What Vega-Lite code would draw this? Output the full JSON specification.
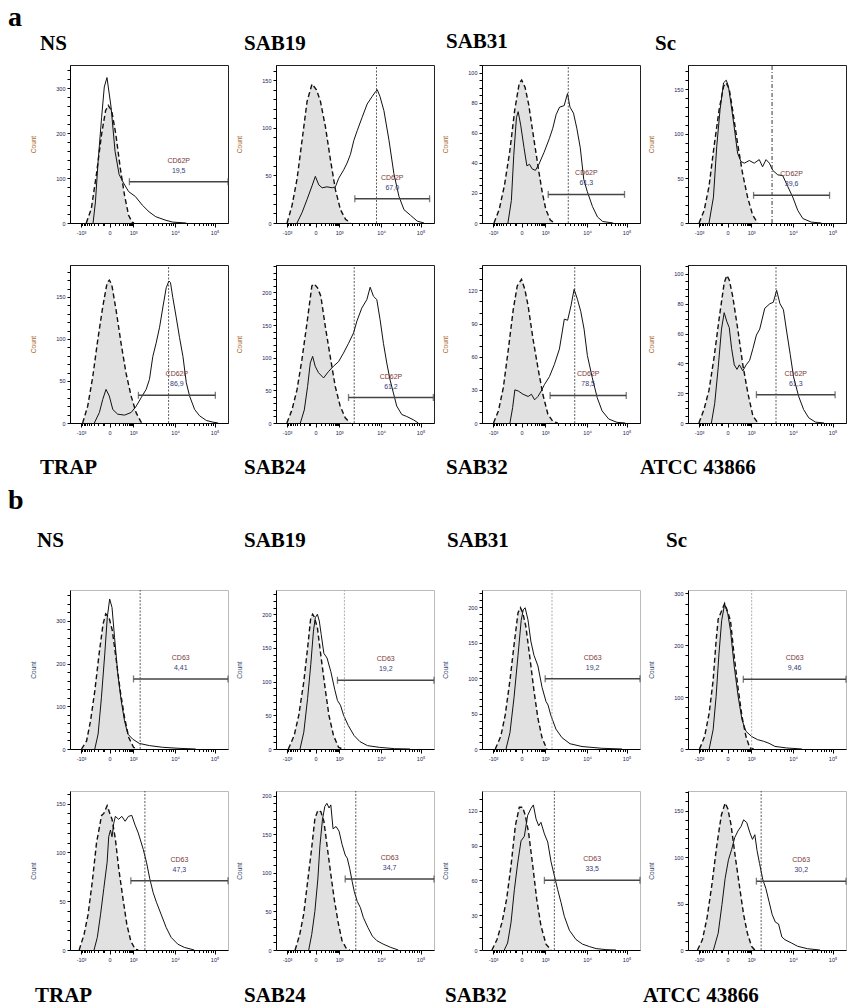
{"$schema":"https://vega.github.io/schema/vega-lite/v6.json","padding":{"left":8,"top":3,"right":0,"bottom":0},
"config":{"view":{"stroke":"#222","strokeWidth":1},"title":{"font":"Liberation Serif","fontSize":21,"fontWeight":"bold","color":"#000","anchor":"start","frame":"group"},
"axis":{"labelFont":"Liberation Sans","labelFontSize":5.5,"labelColor":"#1a2050","tickColor":"#000","domainColor":"#000","tickSize":3,"grid":false,"titleFont":"Liberation Sans","titleFontSize":6.5,"titleFontWeight":"normal","titleColor":"#a8641e","labelPadding":2,"labelOverlap":false},
"axisY":{"titlePadding":19},"axisX":{"labelPadding":3,"labelFlush":false,"tickSize":{"condition":{"test":"indexof([70,250,400,665,915],datum.value)>=0","value":4},"value":2.5}},"text":{"font":"Liberation Sans","fontSize":7}},
"data":{"values":[
{"p":"aNS","s":"c","x":103,"n":0},{"p":"aNS","s":"c","x":135,"n":32},{"p":"aNS","s":"c","x":167,"n":108},{"p":"aNS","s":"c","x":200,"n":198},{"p":"aNS","s":"c","x":225,"n":250},{"p":"aNS","s":"c","x":242,"n":262},{"p":"aNS","s":"c","x":264,"n":250},{"p":"aNS","s":"c","x":290,"n":198},{"p":"aNS","s":"c","x":318,"n":123},{"p":"aNS","s":"c","x":345,"n":62},{"p":"aNS","s":"c","x":371,"n":17},{"p":"aNS","s":"c","x":393,"n":2},{"p":"aNS","s":"c","x":405,"n":0},
{"p":"aNS","s":"s","x":146,"n":0},{"p":"aNS","s":"s","x":161,"n":47},{"p":"aNS","s":"s","x":178,"n":138},{"p":"aNS","s":"s","x":200,"n":235},{"p":"aNS","s":"s","x":217,"n":303},{"p":"aNS","s":"s","x":234,"n":324},{"p":"aNS","s":"s","x":260,"n":258},{"p":"aNS","s":"s","x":285,"n":160},{"p":"aNS","s":"s","x":311,"n":108},{"p":"aNS","s":"s","x":339,"n":89},{"p":"aNS","s":"s","x":371,"n":70},{"p":"aNS","s":"s","x":414,"n":59},{"p":"aNS","s":"s","x":457,"n":40},{"p":"aNS","s":"s","x":500,"n":25},{"p":"aNS","s":"s","x":543,"n":14},{"p":"aNS","s":"s","x":607,"n":6},{"p":"aNS","s":"s","x":650,"n":2},{"p":"aNS","s":"s","x":736,"n":0},
{"p":"aNS","s":"g","x":376,"x2":1000,"n":92,"v":null,"lab":"CD62P","val":"19,5"},
{"p":"aSAB19","s":"c","x":70,"n":0},{"p":"aSAB19","s":"c","x":101,"n":18},{"p":"aSAB19","s":"c","x":133,"n":46},{"p":"aSAB19","s":"c","x":165,"n":87},{"p":"aSAB19","s":"c","x":197,"n":128},{"p":"aSAB19","s":"c","x":228,"n":146},{"p":"aSAB19","s":"c","x":256,"n":140},{"p":"aSAB19","s":"c","x":281,"n":128},{"p":"aSAB19","s":"c","x":313,"n":101},{"p":"aSAB19","s":"c","x":345,"n":66},{"p":"aSAB19","s":"c","x":376,"n":35},{"p":"aSAB19","s":"c","x":408,"n":14},{"p":"aSAB19","s":"c","x":440,"n":4},{"p":"aSAB19","s":"c","x":471,"n":0},
{"p":"aSAB19","s":"s","x":133,"n":0},{"p":"aSAB19","s":"s","x":165,"n":11},{"p":"aSAB19","s":"s","x":197,"n":25},{"p":"aSAB19","s":"s","x":228,"n":39},{"p":"aSAB19","s":"s","x":249,"n":49},{"p":"aSAB19","s":"s","x":271,"n":40},{"p":"aSAB19","s":"s","x":292,"n":37},{"p":"aSAB19","s":"s","x":323,"n":38},{"p":"aSAB19","s":"s","x":355,"n":37},{"p":"aSAB19","s":"s","x":376,"n":38},{"p":"aSAB19","s":"s","x":397,"n":47},{"p":"aSAB19","s":"s","x":429,"n":56},{"p":"aSAB19","s":"s","x":450,"n":63},{"p":"aSAB19","s":"s","x":471,"n":72},{"p":"aSAB19","s":"s","x":493,"n":87},{"p":"aSAB19","s":"s","x":514,"n":97},{"p":"aSAB19","s":"s","x":545,"n":111},{"p":"aSAB19","s":"s","x":577,"n":125},{"p":"aSAB19","s":"s","x":609,"n":133},{"p":"aSAB19","s":"s","x":630,"n":138},{"p":"aSAB19","s":"s","x":641,"n":140},{"p":"aSAB19","s":"s","x":658,"n":133},{"p":"aSAB19","s":"s","x":683,"n":118},{"p":"aSAB19","s":"s","x":715,"n":87},{"p":"aSAB19","s":"s","x":746,"n":52},{"p":"aSAB19","s":"s","x":778,"n":28},{"p":"aSAB19","s":"s","x":810,"n":14},{"p":"aSAB19","s":"s","x":852,"n":8},{"p":"aSAB19","s":"s","x":894,"n":2},{"p":"aSAB19","s":"s","x":937,"n":0},
{"p":"aSAB19","s":"g","x":499,"x2":972,"n":25.5,"v":636,"lab":"CD62P","val":"67,0"},
{"p":"aSAB31","s":"c","x":76,"n":0},{"p":"aSAB31","s":"c","x":109,"n":9},{"p":"aSAB31","s":"c","x":142,"n":25},{"p":"aSAB31","s":"c","x":175,"n":47},{"p":"aSAB31","s":"c","x":207,"n":75},{"p":"aSAB31","s":"c","x":236,"n":93},{"p":"aSAB31","s":"c","x":251,"n":95},{"p":"aSAB31","s":"c","x":273,"n":90},{"p":"aSAB31","s":"c","x":295,"n":79},{"p":"aSAB31","s":"c","x":328,"n":56},{"p":"aSAB31","s":"c","x":360,"n":34},{"p":"aSAB31","s":"c","x":382,"n":20},{"p":"aSAB31","s":"c","x":404,"n":9},{"p":"aSAB31","s":"c","x":432,"n":2},{"p":"aSAB31","s":"c","x":459,"n":0},
{"p":"aSAB31","s":"s","x":164,"n":0},{"p":"aSAB31","s":"s","x":186,"n":15},{"p":"aSAB31","s":"s","x":201,"n":45},{"p":"aSAB31","s":"s","x":218,"n":70},{"p":"aSAB31","s":"s","x":229,"n":74},{"p":"aSAB31","s":"s","x":245,"n":65},{"p":"aSAB31","s":"s","x":266,"n":50},{"p":"aSAB31","s":"s","x":284,"n":38},{"p":"aSAB31","s":"s","x":301,"n":39},{"p":"aSAB31","s":"s","x":317,"n":36},{"p":"aSAB31","s":"s","x":338,"n":35},{"p":"aSAB31","s":"s","x":360,"n":39},{"p":"aSAB31","s":"s","x":393,"n":47},{"p":"aSAB31","s":"s","x":426,"n":56},{"p":"aSAB31","s":"s","x":448,"n":63},{"p":"aSAB31","s":"s","x":469,"n":72},{"p":"aSAB31","s":"s","x":491,"n":77},{"p":"aSAB31","s":"s","x":520,"n":78},{"p":"aSAB31","s":"s","x":541,"n":86},{"p":"aSAB31","s":"s","x":557,"n":77},{"p":"aSAB31","s":"s","x":579,"n":73},{"p":"aSAB31","s":"s","x":600,"n":63},{"p":"aSAB31","s":"s","x":622,"n":50},{"p":"aSAB31","s":"s","x":644,"n":29},{"p":"aSAB31","s":"s","x":666,"n":21},{"p":"aSAB31","s":"s","x":699,"n":11},{"p":"aSAB31","s":"s","x":731,"n":4},{"p":"aSAB31","s":"s","x":764,"n":1},{"p":"aSAB31","s":"s","x":830,"n":0},
{"p":"aSAB31","s":"g","x":419,"x2":902,"n":19,"v":546,"lab":"CD62P","val":"61,3"},
{"p":"aSc","s":"c","x":70,"n":0},{"p":"aSc","s":"c","x":102,"n":14},{"p":"aSc","s":"c","x":133,"n":41},{"p":"aSc","s":"c","x":165,"n":86},{"p":"aSc","s":"c","x":197,"n":127},{"p":"aSc","s":"c","x":225,"n":153},{"p":"aSc","s":"c","x":242,"n":157},{"p":"aSc","s":"c","x":261,"n":150},{"p":"aSc","s":"c","x":282,"n":127},{"p":"aSc","s":"c","x":314,"n":89},{"p":"aSc","s":"c","x":345,"n":56},{"p":"aSc","s":"c","x":377,"n":29},{"p":"aSc","s":"c","x":409,"n":9},{"p":"aSc","s":"c","x":441,"n":0},
{"p":"aSc","s":"s","x":133,"n":0},{"p":"aSc","s":"s","x":161,"n":29},{"p":"aSc","s":"s","x":182,"n":86},{"p":"aSc","s":"s","x":203,"n":127},{"p":"aSc","s":"s","x":225,"n":157},{"p":"aSc","s":"s","x":242,"n":160},{"p":"aSc","s":"s","x":256,"n":153},{"p":"aSc","s":"s","x":271,"n":135},{"p":"aSc","s":"s","x":292,"n":108},{"p":"aSc","s":"s","x":314,"n":78},{"p":"aSc","s":"s","x":335,"n":69},{"p":"aSc","s":"s","x":356,"n":67},{"p":"aSc","s":"s","x":388,"n":70},{"p":"aSc","s":"s","x":419,"n":67},{"p":"aSc","s":"s","x":451,"n":71},{"p":"aSc","s":"s","x":472,"n":63},{"p":"aSc","s":"s","x":494,"n":71},{"p":"aSc","s":"s","x":515,"n":67},{"p":"aSc","s":"s","x":536,"n":59},{"p":"aSc","s":"s","x":568,"n":54},{"p":"aSc","s":"s","x":600,"n":53},{"p":"aSc","s":"s","x":631,"n":41},{"p":"aSc","s":"s","x":663,"n":29},{"p":"aSc","s":"s","x":695,"n":14},{"p":"aSc","s":"s","x":727,"n":5},{"p":"aSc","s":"s","x":780,"n":1},{"p":"aSc","s":"s","x":843,"n":0},
{"p":"aSc","s":"g","x":415,"x2":896,"n":31,"v":532,"lab":"CD62P","val":"39,6"},
{"p":"aTRAP","s":"c","x":80,"n":0},{"p":"aTRAP","s":"c","x":112,"n":20},{"p":"aTRAP","s":"c","x":144,"n":55},{"p":"aTRAP","s":"c","x":175,"n":98},{"p":"aTRAP","s":"c","x":207,"n":138},{"p":"aTRAP","s":"c","x":235,"n":167},{"p":"aTRAP","s":"c","x":249,"n":170},{"p":"aTRAP","s":"c","x":264,"n":165},{"p":"aTRAP","s":"c","x":292,"n":134},{"p":"aTRAP","s":"c","x":323,"n":95},{"p":"aTRAP","s":"c","x":355,"n":59},{"p":"aTRAP","s":"c","x":387,"n":32},{"p":"aTRAP","s":"c","x":419,"n":12},{"p":"aTRAP","s":"c","x":450,"n":1},{"p":"aTRAP","s":"c","x":465,"n":0},
{"p":"aTRAP","s":"s","x":154,"n":0},{"p":"aTRAP","s":"s","x":186,"n":12.5},{"p":"aTRAP","s":"s","x":207,"n":28},{"p":"aTRAP","s":"s","x":228,"n":40},{"p":"aTRAP","s":"s","x":249,"n":32},{"p":"aTRAP","s":"s","x":271,"n":16},{"p":"aTRAP","s":"s","x":302,"n":10.5},{"p":"aTRAP","s":"s","x":345,"n":9.4},{"p":"aTRAP","s":"s","x":387,"n":12.5},{"p":"aTRAP","s":"s","x":419,"n":20},{"p":"aTRAP","s":"s","x":450,"n":30},{"p":"aTRAP","s":"s","x":482,"n":40},{"p":"aTRAP","s":"s","x":503,"n":52},{"p":"aTRAP","s":"s","x":524,"n":79},{"p":"aTRAP","s":"s","x":545,"n":95},{"p":"aTRAP","s":"s","x":567,"n":114},{"p":"aTRAP","s":"s","x":588,"n":138},{"p":"aTRAP","s":"s","x":609,"n":161},{"p":"aTRAP","s":"s","x":626,"n":169},{"p":"aTRAP","s":"s","x":636,"n":167},{"p":"aTRAP","s":"s","x":651,"n":149},{"p":"aTRAP","s":"s","x":672,"n":126},{"p":"aTRAP","s":"s","x":693,"n":102},{"p":"aTRAP","s":"s","x":715,"n":79},{"p":"aTRAP","s":"s","x":736,"n":48},{"p":"aTRAP","s":"s","x":757,"n":32},{"p":"aTRAP","s":"s","x":789,"n":16},{"p":"aTRAP","s":"s","x":820,"n":8.6},{"p":"aTRAP","s":"s","x":863,"n":3},{"p":"aTRAP","s":"s","x":905,"n":1},{"p":"aTRAP","s":"s","x":937,"n":0},
{"p":"aTRAP","s":"g","x":433,"x2":920,"n":33,"v":624,"lab":"CD62P","val":"86,9"},
{"p":"aSAB24","s":"c","x":69,"n":0},{"p":"aSAB24","s":"c","x":101,"n":20},{"p":"aSAB24","s":"c","x":133,"n":51},{"p":"aSAB24","s":"c","x":164,"n":97},{"p":"aSAB24","s":"c","x":196,"n":153},{"p":"aSAB24","s":"c","x":227,"n":210},{"p":"aSAB24","s":"c","x":242,"n":213},{"p":"aSAB24","s":"c","x":263,"n":207},{"p":"aSAB24","s":"c","x":284,"n":194},{"p":"aSAB24","s":"c","x":312,"n":148},{"p":"aSAB24","s":"c","x":343,"n":102},{"p":"aSAB24","s":"c","x":375,"n":56},{"p":"aSAB24","s":"c","x":406,"n":26},{"p":"aSAB24","s":"c","x":438,"n":8},{"p":"aSAB24","s":"c","x":469,"n":0},
{"p":"aSAB24","s":"s","x":154,"n":0},{"p":"aSAB24","s":"s","x":179,"n":20},{"p":"aSAB24","s":"s","x":200,"n":56},{"p":"aSAB24","s":"s","x":217,"n":92},{"p":"aSAB24","s":"s","x":232,"n":102},{"p":"aSAB24","s":"s","x":248,"n":87},{"p":"aSAB24","s":"s","x":269,"n":77},{"p":"aSAB24","s":"s","x":301,"n":69},{"p":"aSAB24","s":"s","x":333,"n":79},{"p":"aSAB24","s":"s","x":364,"n":87},{"p":"aSAB24","s":"s","x":396,"n":94},{"p":"aSAB24","s":"s","x":427,"n":107},{"p":"aSAB24","s":"s","x":459,"n":122},{"p":"aSAB24","s":"s","x":491,"n":138},{"p":"aSAB24","s":"s","x":512,"n":156},{"p":"aSAB24","s":"s","x":543,"n":176},{"p":"aSAB24","s":"s","x":575,"n":189},{"p":"aSAB24","s":"s","x":596,"n":208},{"p":"aSAB24","s":"s","x":617,"n":194},{"p":"aSAB24","s":"s","x":638,"n":189},{"p":"aSAB24","s":"s","x":659,"n":158},{"p":"aSAB24","s":"s","x":680,"n":122},{"p":"aSAB24","s":"s","x":701,"n":92},{"p":"aSAB24","s":"s","x":722,"n":66},{"p":"aSAB24","s":"s","x":743,"n":46},{"p":"aSAB24","s":"s","x":764,"n":26},{"p":"aSAB24","s":"s","x":796,"n":13},{"p":"aSAB24","s":"s","x":827,"n":10},{"p":"aSAB24","s":"s","x":869,"n":5},{"p":"aSAB24","s":"s","x":901,"n":0},
{"p":"aSAB24","s":"g","x":459,"x2":996,"n":39,"v":495,"lab":"CD62P","val":"61,2"},
{"p":"aSAB32","s":"c","x":73,"n":0},{"p":"aSAB32","s":"c","x":104,"n":11},{"p":"aSAB32","s":"c","x":135,"n":32},{"p":"aSAB32","s":"c","x":167,"n":67},{"p":"aSAB32","s":"c","x":198,"n":103},{"p":"aSAB32","s":"c","x":223,"n":124},{"p":"aSAB32","s":"c","x":250,"n":130},{"p":"aSAB32","s":"c","x":271,"n":121},{"p":"aSAB32","s":"c","x":292,"n":106},{"p":"aSAB32","s":"c","x":323,"n":76},{"p":"aSAB32","s":"c","x":354,"n":50},{"p":"aSAB32","s":"c","x":385,"n":26},{"p":"aSAB32","s":"c","x":417,"n":8},{"p":"aSAB32","s":"c","x":448,"n":1.5},{"p":"aSAB32","s":"c","x":479,"n":0},
{"p":"aSAB32","s":"s","x":177,"n":0},{"p":"aSAB32","s":"s","x":194,"n":14},{"p":"aSAB32","s":"s","x":208,"n":30},{"p":"aSAB32","s":"s","x":229,"n":29},{"p":"aSAB32","s":"s","x":260,"n":26},{"p":"aSAB32","s":"s","x":292,"n":24},{"p":"aSAB32","s":"s","x":313,"n":26},{"p":"aSAB32","s":"s","x":333,"n":21},{"p":"aSAB32","s":"s","x":354,"n":24},{"p":"aSAB32","s":"s","x":375,"n":29},{"p":"aSAB32","s":"s","x":396,"n":35},{"p":"aSAB32","s":"s","x":427,"n":42},{"p":"aSAB32","s":"s","x":458,"n":53},{"p":"aSAB32","s":"s","x":490,"n":67},{"p":"aSAB32","s":"s","x":521,"n":94},{"p":"aSAB32","s":"s","x":542,"n":93},{"p":"aSAB32","s":"s","x":563,"n":106},{"p":"aSAB32","s":"s","x":583,"n":121},{"p":"aSAB32","s":"s","x":604,"n":112},{"p":"aSAB32","s":"s","x":625,"n":101},{"p":"aSAB32","s":"s","x":646,"n":85},{"p":"aSAB32","s":"s","x":667,"n":61},{"p":"aSAB32","s":"s","x":698,"n":41},{"p":"aSAB32","s":"s","x":729,"n":23},{"p":"aSAB32","s":"s","x":760,"n":11},{"p":"aSAB32","s":"s","x":802,"n":3.6},{"p":"aSAB32","s":"s","x":854,"n":0.6},{"p":"aSAB32","s":"s","x":906,"n":0},
{"p":"aSAB32","s":"g","x":431,"x2":913,"n":25,"v":587,"lab":"CD62P","val":"78,5"},
{"p":"aATCC","s":"c","x":69,"n":0},{"p":"aATCC","s":"c","x":101,"n":9},{"p":"aATCC","s":"c","x":133,"n":22},{"p":"aATCC","s":"c","x":165,"n":44},{"p":"aATCC","s":"c","x":197,"n":70},{"p":"aATCC","s":"c","x":229,"n":94},{"p":"aATCC","s":"c","x":246,"n":99},{"p":"aATCC","s":"c","x":261,"n":96},{"p":"aATCC","s":"c","x":283,"n":85},{"p":"aATCC","s":"c","x":315,"n":63},{"p":"aATCC","s":"c","x":347,"n":39},{"p":"aATCC","s":"c","x":379,"n":20},{"p":"aATCC","s":"c","x":411,"n":4.6},{"p":"aATCC","s":"c","x":443,"n":0},
{"p":"aATCC","s":"s","x":148,"n":0},{"p":"aATCC","s":"s","x":169,"n":13},{"p":"aATCC","s":"s","x":191,"n":37},{"p":"aATCC","s":"s","x":212,"n":63},{"p":"aATCC","s":"s","x":229,"n":74},{"p":"aATCC","s":"s","x":246,"n":68},{"p":"aATCC","s":"s","x":261,"n":64},{"p":"aATCC","s":"s","x":276,"n":50},{"p":"aATCC","s":"s","x":293,"n":39},{"p":"aATCC","s":"s","x":310,"n":36},{"p":"aATCC","s":"s","x":325,"n":39},{"p":"aATCC","s":"s","x":347,"n":35},{"p":"aATCC","s":"s","x":368,"n":39},{"p":"aATCC","s":"s","x":390,"n":42},{"p":"aATCC","s":"s","x":411,"n":50},{"p":"aATCC","s":"s","x":433,"n":59},{"p":"aATCC","s":"s","x":454,"n":63},{"p":"aATCC","s":"s","x":486,"n":77},{"p":"aATCC","s":"s","x":518,"n":80},{"p":"aATCC","s":"s","x":540,"n":81},{"p":"aATCC","s":"s","x":561,"n":89},{"p":"aATCC","s":"s","x":582,"n":80},{"p":"aATCC","s":"s","x":604,"n":76},{"p":"aATCC","s":"s","x":625,"n":61},{"p":"aATCC","s":"s","x":647,"n":46},{"p":"aATCC","s":"s","x":668,"n":31},{"p":"aATCC","s":"s","x":700,"n":18},{"p":"aATCC","s":"s","x":732,"n":9},{"p":"aATCC","s":"s","x":764,"n":3.5},{"p":"aATCC","s":"s","x":807,"n":0.6},{"p":"aATCC","s":"s","x":861,"n":0},
{"p":"aATCC","s":"g","x":433,"x2":931,"n":19,"v":557,"lab":"CD62P","val":"61,3"},
{"p":"bNS","s":"c","x":73,"n":0},{"p":"bNS","s":"c","x":105,"n":19},{"p":"bNS","s":"c","x":130,"n":66},{"p":"bNS","s":"c","x":157,"n":136},{"p":"bNS","s":"c","x":184,"n":222},{"p":"bNS","s":"c","x":209,"n":292},{"p":"bNS","s":"c","x":226,"n":316},{"p":"bNS","s":"c","x":247,"n":308},{"p":"bNS","s":"c","x":268,"n":277},{"p":"bNS","s":"c","x":293,"n":207},{"p":"bNS","s":"c","x":318,"n":136},{"p":"bNS","s":"c","x":345,"n":74},{"p":"bNS","s":"c","x":372,"n":27},{"p":"bNS","s":"c","x":402,"n":4},{"p":"bNS","s":"c","x":429,"n":0},
{"p":"bNS","s":"s","x":157,"n":0},{"p":"bNS","s":"s","x":178,"n":35},{"p":"bNS","s":"s","x":199,"n":121},{"p":"bNS","s":"s","x":220,"n":222},{"p":"bNS","s":"s","x":236,"n":308},{"p":"bNS","s":"s","x":251,"n":351},{"p":"bNS","s":"s","x":266,"n":331},{"p":"bNS","s":"s","x":282,"n":261},{"p":"bNS","s":"s","x":303,"n":175},{"p":"bNS","s":"s","x":324,"n":113},{"p":"bNS","s":"s","x":345,"n":66},{"p":"bNS","s":"s","x":366,"n":35},{"p":"bNS","s":"s","x":397,"n":23},{"p":"bNS","s":"s","x":439,"n":13},{"p":"bNS","s":"s","x":502,"n":8},{"p":"bNS","s":"s","x":586,"n":4},{"p":"bNS","s":"s","x":690,"n":1.6},{"p":"bNS","s":"s","x":795,"n":0},
{"p":"bNS","s":"g","x":402,"x2":1000,"n":164,"v":444,"lab":"CD63","val":"4,41"},
{"p":"bSAB19","s":"c","x":78,"n":0},{"p":"bSAB19","s":"c","x":115,"n":20},{"p":"bSAB19","s":"c","x":144,"n":50},{"p":"bSAB19","s":"c","x":176,"n":100},{"p":"bSAB19","s":"c","x":200,"n":150},{"p":"bSAB19","s":"c","x":220,"n":195},{"p":"bSAB19","s":"c","x":232,"n":200},{"p":"bSAB19","s":"c","x":242,"n":196},{"p":"bSAB19","s":"c","x":262,"n":180},{"p":"bSAB19","s":"c","x":286,"n":135},{"p":"bSAB19","s":"c","x":311,"n":90},{"p":"bSAB19","s":"c","x":335,"n":50},{"p":"bSAB19","s":"c","x":364,"n":20},{"p":"bSAB19","s":"c","x":396,"n":2.5},{"p":"bSAB19","s":"c","x":421,"n":0},
{"p":"bSAB19","s":"s","x":152,"n":0},{"p":"bSAB19","s":"s","x":176,"n":25},{"p":"bSAB19","s":"s","x":200,"n":75},{"p":"bSAB19","s":"s","x":220,"n":125},{"p":"bSAB19","s":"s","x":237,"n":175},{"p":"bSAB19","s":"s","x":249,"n":195},{"p":"bSAB19","s":"s","x":262,"n":200},{"p":"bSAB19","s":"s","x":274,"n":190},{"p":"bSAB19","s":"s","x":286,"n":170},{"p":"bSAB19","s":"s","x":303,"n":142},{"p":"bSAB19","s":"s","x":323,"n":135},{"p":"bSAB19","s":"s","x":347,"n":115},{"p":"bSAB19","s":"s","x":372,"n":88},{"p":"bSAB19","s":"s","x":389,"n":72},{"p":"bSAB19","s":"s","x":408,"n":65},{"p":"bSAB19","s":"s","x":428,"n":50},{"p":"bSAB19","s":"s","x":457,"n":35},{"p":"bSAB19","s":"s","x":494,"n":20},{"p":"bSAB19","s":"s","x":531,"n":11},{"p":"bSAB19","s":"s","x":579,"n":5},{"p":"bSAB19","s":"s","x":653,"n":2.5},{"p":"bSAB19","s":"s","x":751,"n":0.5},{"p":"bSAB19","s":"s","x":848,"n":0},
{"p":"bSAB19","s":"g","x":389,"x2":1000,"n":102,"v":433,"lab":"CD63","val":"19,2"},
{"p":"bSAB31","s":"c","x":84,"n":0},{"p":"bSAB31","s":"c","x":119,"n":18},{"p":"bSAB31","s":"c","x":147,"n":48},{"p":"bSAB31","s":"c","x":177,"n":97},{"p":"bSAB31","s":"c","x":203,"n":147},{"p":"bSAB31","s":"c","x":228,"n":192},{"p":"bSAB31","s":"c","x":243,"n":199},{"p":"bSAB31","s":"c","x":258,"n":192},{"p":"bSAB31","s":"c","x":278,"n":172},{"p":"bSAB31","s":"c","x":304,"n":127},{"p":"bSAB31","s":"c","x":329,"n":82},{"p":"bSAB31","s":"c","x":354,"n":43},{"p":"bSAB31","s":"c","x":380,"n":16},{"p":"bSAB31","s":"c","x":410,"n":0},
{"p":"bSAB31","s":"s","x":152,"n":0},{"p":"bSAB31","s":"s","x":177,"n":23},{"p":"bSAB31","s":"s","x":203,"n":73},{"p":"bSAB31","s":"s","x":228,"n":132},{"p":"bSAB31","s":"s","x":248,"n":181},{"p":"bSAB31","s":"s","x":261,"n":196},{"p":"bSAB31","s":"s","x":273,"n":199},{"p":"bSAB31","s":"s","x":291,"n":182},{"p":"bSAB31","s":"s","x":309,"n":152},{"p":"bSAB31","s":"s","x":329,"n":132},{"p":"bSAB31","s":"s","x":354,"n":117},{"p":"bSAB31","s":"s","x":380,"n":87},{"p":"bSAB31","s":"s","x":405,"n":67},{"p":"bSAB31","s":"s","x":418,"n":62},{"p":"bSAB31","s":"s","x":435,"n":48},{"p":"bSAB31","s":"s","x":468,"n":28},{"p":"bSAB31","s":"s","x":506,"n":16},{"p":"bSAB31","s":"s","x":557,"n":7.4},{"p":"bSAB31","s":"s","x":633,"n":3.5},{"p":"bSAB31","s":"s","x":759,"n":1},{"p":"bSAB31","s":"s","x":886,"n":0},
{"p":"bSAB31","s":"g","x":400,"x2":1000,"n":99,"v":443,"lab":"CD63","val":"19,2"},
{"p":"bSc","s":"c","x":73,"n":0},{"p":"bSc","s":"c","x":105,"n":24},{"p":"bSc","s":"c","x":134,"n":69},{"p":"bSc","s":"c","x":159,"n":132},{"p":"bSc","s":"c","x":178,"n":209},{"p":"bSc","s":"c","x":191,"n":250},{"p":"bSc","s":"c","x":213,"n":266},{"p":"bSc","s":"c","x":232,"n":280},{"p":"bSc","s":"c","x":249,"n":266},{"p":"bSc","s":"c","x":269,"n":247},{"p":"bSc","s":"c","x":293,"n":177},{"p":"bSc","s":"c","x":318,"n":115},{"p":"bSc","s":"c","x":342,"n":62},{"p":"bSc","s":"c","x":367,"n":24},{"p":"bSc","s":"c","x":391,"n":2},{"p":"bSc","s":"c","x":416,"n":0},
{"p":"bSc","s":"s","x":134,"n":0},{"p":"bSc","s":"s","x":159,"n":37},{"p":"bSc","s":"s","x":178,"n":101},{"p":"bSc","s":"s","x":196,"n":183},{"p":"bSc","s":"s","x":213,"n":247},{"p":"bSc","s":"s","x":232,"n":279},{"p":"bSc","s":"s","x":252,"n":260},{"p":"bSc","s":"s","x":269,"n":228},{"p":"bSc","s":"s","x":293,"n":158},{"p":"bSc","s":"s","x":318,"n":100},{"p":"bSc","s":"s","x":342,"n":56},{"p":"bSc","s":"s","x":367,"n":34},{"p":"bSc","s":"s","x":403,"n":24},{"p":"bSc","s":"s","x":440,"n":18},{"p":"bSc","s":"s","x":477,"n":15},{"p":"bSc","s":"s","x":513,"n":11},{"p":"bSc","s":"s","x":550,"n":5},{"p":"bSc","s":"s","x":623,"n":2},{"p":"bSc","s":"s","x":721,"n":0},
{"p":"bSc","s":"g","x":350,"x2":1000,"n":134,"v":403,"lab":"CD63","val":"9,46"},
{"p":"bTRAP","s":"c","x":58,"n":0},{"p":"bTRAP","s":"c","x":89,"n":16},{"p":"bTRAP","s":"c","x":114,"n":36},{"p":"bTRAP","s":"c","x":141,"n":70},{"p":"bTRAP","s":"c","x":168,"n":110},{"p":"bTRAP","s":"c","x":200,"n":138},{"p":"bTRAP","s":"c","x":214,"n":140},{"p":"bTRAP","s":"c","x":235,"n":148},{"p":"bTRAP","s":"c","x":252,"n":140},{"p":"bTRAP","s":"c","x":266,"n":134},{"p":"bTRAP","s":"c","x":287,"n":114},{"p":"bTRAP","s":"c","x":308,"n":84},{"p":"bTRAP","s":"c","x":335,"n":53},{"p":"bTRAP","s":"c","x":360,"n":26},{"p":"bTRAP","s":"c","x":385,"n":9},{"p":"bTRAP","s":"c","x":412,"n":1},{"p":"bTRAP","s":"c","x":432,"n":0},
{"p":"bTRAP","s":"s","x":152,"n":0},{"p":"bTRAP","s":"s","x":173,"n":13},{"p":"bTRAP","s":"s","x":193,"n":36},{"p":"bTRAP","s":"s","x":214,"n":63},{"p":"bTRAP","s":"s","x":235,"n":90},{"p":"bTRAP","s":"s","x":245,"n":116},{"p":"bTRAP","s":"s","x":256,"n":123},{"p":"bTRAP","s":"s","x":266,"n":116},{"p":"bTRAP","s":"s","x":277,"n":130},{"p":"bTRAP","s":"s","x":287,"n":137},{"p":"bTRAP","s":"s","x":308,"n":134},{"p":"bTRAP","s":"s","x":328,"n":137},{"p":"bTRAP","s":"s","x":349,"n":132},{"p":"bTRAP","s":"s","x":370,"n":137},{"p":"bTRAP","s":"s","x":391,"n":138},{"p":"bTRAP","s":"s","x":412,"n":128},{"p":"bTRAP","s":"s","x":432,"n":120},{"p":"bTRAP","s":"s","x":464,"n":103},{"p":"bTRAP","s":"s","x":484,"n":90},{"p":"bTRAP","s":"s","x":505,"n":73},{"p":"bTRAP","s":"s","x":526,"n":59},{"p":"bTRAP","s":"s","x":547,"n":49},{"p":"bTRAP","s":"s","x":578,"n":36},{"p":"bTRAP","s":"s","x":609,"n":23},{"p":"bTRAP","s":"s","x":640,"n":13},{"p":"bTRAP","s":"s","x":682,"n":6},{"p":"bTRAP","s":"s","x":723,"n":2.7},{"p":"bTRAP","s":"s","x":786,"n":0},
{"p":"bTRAP","s":"g","x":385,"x2":1000,"n":71,"v":474,"lab":"CD63","val":"47,3"},
{"p":"bSAB24","s":"c","x":121,"n":0},{"p":"bSAB24","s":"c","x":150,"n":20},{"p":"bSAB24","s":"c","x":175,"n":46},{"p":"bSAB24","s":"c","x":198,"n":85},{"p":"bSAB24","s":"c","x":223,"n":127},{"p":"bSAB24","s":"c","x":246,"n":170},{"p":"bSAB24","s":"c","x":265,"n":181},{"p":"bSAB24","s":"c","x":284,"n":179},{"p":"bSAB24","s":"c","x":303,"n":167},{"p":"bSAB24","s":"c","x":322,"n":137},{"p":"bSAB24","s":"c","x":347,"n":98},{"p":"bSAB24","s":"c","x":370,"n":64},{"p":"bSAB24","s":"c","x":395,"n":34},{"p":"bSAB24","s":"c","x":418,"n":12},{"p":"bSAB24","s":"c","x":447,"n":1.3},{"p":"bSAB24","s":"c","x":466,"n":0},
{"p":"bSAB24","s":"s","x":207,"n":0},{"p":"bSAB24","s":"s","x":226,"n":20},{"p":"bSAB24","s":"s","x":246,"n":50},{"p":"bSAB24","s":"s","x":265,"n":92},{"p":"bSAB24","s":"s","x":278,"n":135},{"p":"bSAB24","s":"s","x":294,"n":169},{"p":"bSAB24","s":"s","x":309,"n":186},{"p":"bSAB24","s":"s","x":322,"n":190},{"p":"bSAB24","s":"s","x":336,"n":184},{"p":"bSAB24","s":"s","x":347,"n":188},{"p":"bSAB24","s":"s","x":361,"n":157},{"p":"bSAB24","s":"s","x":380,"n":160},{"p":"bSAB24","s":"s","x":399,"n":154},{"p":"bSAB24","s":"s","x":418,"n":137},{"p":"bSAB24","s":"s","x":438,"n":123},{"p":"bSAB24","s":"s","x":451,"n":119},{"p":"bSAB24","s":"s","x":466,"n":106},{"p":"bSAB24","s":"s","x":482,"n":89},{"p":"bSAB24","s":"s","x":495,"n":76},{"p":"bSAB24","s":"s","x":514,"n":63},{"p":"bSAB24","s":"s","x":534,"n":55},{"p":"bSAB24","s":"s","x":553,"n":42},{"p":"bSAB24","s":"s","x":582,"n":29},{"p":"bSAB24","s":"s","x":610,"n":18},{"p":"bSAB24","s":"s","x":639,"n":12},{"p":"bSAB24","s":"s","x":678,"n":7.7},{"p":"bSAB24","s":"s","x":726,"n":3.4},{"p":"bSAB24","s":"s","x":774,"n":0},
{"p":"bSAB24","s":"g","x":438,"x2":1000,"n":92,"v":505,"lab":"CD63","val":"34,7"},
{"p":"bSAB32","s":"c","x":63,"n":0},{"p":"bSAB32","s":"c","x":95,"n":9},{"p":"bSAB32","s":"c","x":127,"n":24},{"p":"bSAB32","s":"c","x":156,"n":44},{"p":"bSAB32","s":"c","x":184,"n":73},{"p":"bSAB32","s":"c","x":211,"n":107},{"p":"bSAB32","s":"c","x":236,"n":123},{"p":"bSAB32","s":"c","x":257,"n":123},{"p":"bSAB32","s":"c","x":274,"n":116},{"p":"bSAB32","s":"c","x":295,"n":101},{"p":"bSAB32","s":"c","x":321,"n":73},{"p":"bSAB32","s":"c","x":346,"n":44},{"p":"bSAB32","s":"c","x":373,"n":21},{"p":"bSAB32","s":"c","x":405,"n":5},{"p":"bSAB32","s":"c","x":437,"n":0},
{"p":"bSAB32","s":"s","x":141,"n":0},{"p":"bSAB32","s":"s","x":162,"n":6},{"p":"bSAB32","s":"s","x":184,"n":24},{"p":"bSAB32","s":"s","x":205,"n":52},{"p":"bSAB32","s":"s","x":226,"n":75},{"p":"bSAB32","s":"s","x":247,"n":94},{"p":"bSAB32","s":"s","x":268,"n":98},{"p":"bSAB32","s":"s","x":289,"n":116},{"p":"bSAB32","s":"s","x":310,"n":122},{"p":"bSAB32","s":"s","x":325,"n":125},{"p":"bSAB32","s":"s","x":342,"n":113},{"p":"bSAB32","s":"s","x":359,"n":107},{"p":"bSAB32","s":"s","x":373,"n":110},{"p":"bSAB32","s":"s","x":395,"n":100},{"p":"bSAB32","s":"s","x":416,"n":93},{"p":"bSAB32","s":"s","x":437,"n":76},{"p":"bSAB32","s":"s","x":458,"n":64},{"p":"bSAB32","s":"s","x":479,"n":52},{"p":"bSAB32","s":"s","x":500,"n":41},{"p":"bSAB32","s":"s","x":521,"n":29},{"p":"bSAB32","s":"s","x":553,"n":17},{"p":"bSAB32","s":"s","x":595,"n":9},{"p":"bSAB32","s":"s","x":637,"n":5},{"p":"bSAB32","s":"s","x":679,"n":3},{"p":"bSAB32","s":"s","x":722,"n":1.2},{"p":"bSAB32","s":"s","x":785,"n":0.3},{"p":"bSAB32","s":"s","x":848,"n":0},
{"p":"bSAB32","s":"g","x":395,"x2":1000,"n":60,"v":458,"lab":"CD63","val":"33,5"},
{"p":"bATCC","s":"c","x":60,"n":0},{"p":"bATCC","s":"c","x":91,"n":11},{"p":"bATCC","s":"c","x":121,"n":35},{"p":"bATCC","s":"c","x":151,"n":70},{"p":"bATCC","s":"c","x":181,"n":111},{"p":"bATCC","s":"c","x":211,"n":145},{"p":"bATCC","s":"c","x":235,"n":158},{"p":"bATCC","s":"c","x":252,"n":152},{"p":"bATCC","s":"c","x":272,"n":135},{"p":"bATCC","s":"c","x":302,"n":97},{"p":"bATCC","s":"c","x":328,"n":66},{"p":"bATCC","s":"c","x":352,"n":38},{"p":"bATCC","s":"c","x":376,"n":18},{"p":"bATCC","s":"c","x":402,"n":4},{"p":"bATCC","s":"c","x":423,"n":0},
{"p":"bATCC","s":"s","x":161,"n":0},{"p":"bATCC","s":"s","x":191,"n":18},{"p":"bATCC","s":"s","x":215,"n":49},{"p":"bATCC","s":"s","x":235,"n":77},{"p":"bATCC","s":"s","x":256,"n":97},{"p":"bATCC","s":"s","x":276,"n":108},{"p":"bATCC","s":"s","x":296,"n":121},{"p":"bATCC","s":"s","x":316,"n":128},{"p":"bATCC","s":"s","x":336,"n":133},{"p":"bATCC","s":"s","x":352,"n":140},{"p":"bATCC","s":"s","x":372,"n":137},{"p":"bATCC","s":"s","x":392,"n":126},{"p":"bATCC","s":"s","x":408,"n":119},{"p":"bATCC","s":"s","x":423,"n":124},{"p":"bATCC","s":"s","x":437,"n":107},{"p":"bATCC","s":"s","x":453,"n":93},{"p":"bATCC","s":"s","x":473,"n":76},{"p":"bATCC","s":"s","x":493,"n":66},{"p":"bATCC","s":"s","x":513,"n":52},{"p":"bATCC","s":"s","x":533,"n":38},{"p":"bATCC","s":"s","x":553,"n":30},{"p":"bATCC","s":"s","x":573,"n":28},{"p":"bATCC","s":"s","x":594,"n":14},{"p":"bATCC","s":"s","x":614,"n":11},{"p":"bATCC","s":"s","x":654,"n":7.6},{"p":"bATCC","s":"s","x":694,"n":4},{"p":"bATCC","s":"s","x":755,"n":1.4},{"p":"bATCC","s":"s","x":835,"n":0},
{"p":"bATCC","s":"g","x":433,"x2":1000,"n":74,"v":463,"lab":"CD63","val":"30,2"}
]},
"title":{"text":"a","fontSize":28,"dx":-62,"offset":-1},
"bounds":"flush","columns":4,"spacing":{"row":42,"column":48},
"concat":[
{"width":158,"height":158,"title":{"text":"NS","dx":-30,"offset":11},"transform":[{"filter":"datum.p=='aNS'"}],"encoding":{"x":{"field":"x","type":"quantitative","scale":{"domain":[0,1000],"nice":false},"axis":{"values":[70,77,86,94,105,118,133,151,175,207,214,250,286,313,333,348,361,371,380,387,394,400,480,526,560,585,606,624,639,653,665,740,784,815,840,860,876,890,904,915],"labelExpr":"datum.value==70?'-10³':datum.value==250?'0':datum.value==400?'10³':datum.value==665?'10⁴':datum.value==915?'10⁵':''","title":null}},"y":{"field":"n","type":"quantitative","scale":{"domain":[0,352],"nice":false},"axis":{"tickCount":18,"labelExpr":"datum.value%100?'':datum.label","title":"Count"}}},"layer":[{"transform":[{"filter":"datum.s=='c'"}],"mark":{"type":"area","color":"#d4d4d4","line":{"stroke":"#111","strokeDash":[5,3],"strokeWidth":1.4}}},{"transform":[{"filter":"datum.s=='s'"}],"mark":{"type":"line","color":"#111","strokeWidth":1}},{"transform":[{"filter":"datum.s=='g'"}],"mark":{"type":"rule","clip":true,"color":"#333","strokeDash":[2,1.5],"strokeWidth":0.8},"encoding":{"x":{"field":"v","type":"quantitative","title":null},"y":{"datum":0},"y2":{"datum":100000}}},{"transform":[{"filter":"datum.s=='g'"}],"mark":{"type":"rule","color":"#444","strokeWidth":1.5},"encoding":{"x2":{"field":"x2"}}},{"transform":[{"filter":"datum.s=='g'"},{"fold":["x","x2"],"as":["k","e"]}],"mark":{"type":"tick","orient":"vertical","size":7,"thickness":1.3,"color":"#444"},"encoding":{"x":{"field":"e","type":"quantitative","title":null}}},{"transform":[{"filter":"datum.s=='g'"},{"calculate":"(datum.x+datum.x2)/2","as":"m"}],"mark":{"type":"text","dy":-21,"color":"#7a3838"},"encoding":{"x":{"field":"m","type":"quantitative","title":null},"text":{"field":"lab"}}},{"transform":[{"filter":"datum.s=='g'"},{"calculate":"(datum.x+datum.x2)/2","as":"m"}],"mark":{"type":"text","dy":-11,"color":"#34407a"},"encoding":{"x":{"field":"m","type":"quantitative","title":null},"text":{"field":"val"}}}]},
{"width":158,"height":158,"title":{"text":"SAB19","dx":-32,"offset":11},"transform":[{"filter":"datum.p=='aSAB19'"}],"encoding":{"x":{"field":"x","type":"quantitative","scale":{"domain":[0,1000],"nice":false},"axis":{"values":[70,77,86,94,105,118,133,151,175,207,214,250,286,313,333,348,361,371,380,387,394,400,480,526,560,585,606,624,639,653,665,740,784,815,840,860,876,890,904,915],"labelExpr":"datum.value==70?'-10³':datum.value==250?'0':datum.value==400?'10³':datum.value==665?'10⁴':datum.value==915?'10⁵':''","title":null}},"y":{"field":"n","type":"quantitative","scale":{"domain":[0,166],"nice":false},"axis":{"tickCount":17,"labelExpr":"datum.value%50?'':datum.label","title":"Count"}}},"layer":[{"transform":[{"filter":"datum.s=='c'"}],"mark":{"type":"area","color":"#d4d4d4","line":{"stroke":"#111","strokeDash":[5,3],"strokeWidth":1.4}}},{"transform":[{"filter":"datum.s=='s'"}],"mark":{"type":"line","color":"#111","strokeWidth":1}},{"transform":[{"filter":"datum.s=='g'"}],"mark":{"type":"rule","clip":true,"color":"#333","strokeDash":[2,1.5],"strokeWidth":0.8},"encoding":{"x":{"field":"v","type":"quantitative","title":null},"y":{"datum":0},"y2":{"datum":100000}}},{"transform":[{"filter":"datum.s=='g'"}],"mark":{"type":"rule","color":"#444","strokeWidth":1.5},"encoding":{"x2":{"field":"x2"}}},{"transform":[{"filter":"datum.s=='g'"},{"fold":["x","x2"],"as":["k","e"]}],"mark":{"type":"tick","orient":"vertical","size":7,"thickness":1.3,"color":"#444"},"encoding":{"x":{"field":"e","type":"quantitative","title":null}}},{"transform":[{"filter":"datum.s=='g'"},{"calculate":"(datum.x+datum.x2)/2","as":"m"}],"mark":{"type":"text","dy":-21,"color":"#7a3838"},"encoding":{"x":{"field":"m","type":"quantitative","title":null},"text":{"field":"lab"}}},{"transform":[{"filter":"datum.s=='g'"},{"calculate":"(datum.x+datum.x2)/2","as":"m"}],"mark":{"type":"text","dy":-11,"color":"#34407a"},"encoding":{"x":{"field":"m","type":"quantitative","title":null},"text":{"field":"val"}}}]},
{"width":158,"height":158,"title":{"text":"SAB31","dx":-36,"offset":11},"transform":[{"filter":"datum.p=='aSAB31'"}],"encoding":{"x":{"field":"x","type":"quantitative","scale":{"domain":[0,1000],"nice":false},"axis":{"values":[70,77,86,94,105,118,133,151,175,207,214,250,286,313,333,348,361,371,380,387,394,400,480,526,560,585,606,624,639,653,665,740,784,815,840,860,876,890,904,915],"labelExpr":"datum.value==70?'-10³':datum.value==250?'0':datum.value==400?'10³':datum.value==665?'10⁴':datum.value==915?'10⁵':''","title":null}},"y":{"field":"n","type":"quantitative","scale":{"domain":[0,105],"nice":false},"axis":{"tickCount":21,"labelExpr":"datum.value%20?'':datum.label","title":"Count"}}},"layer":[{"transform":[{"filter":"datum.s=='c'"}],"mark":{"type":"area","color":"#d4d4d4","line":{"stroke":"#111","strokeDash":[5,3],"strokeWidth":1.4}}},{"transform":[{"filter":"datum.s=='s'"}],"mark":{"type":"line","color":"#111","strokeWidth":1}},{"transform":[{"filter":"datum.s=='g'"}],"mark":{"type":"rule","clip":true,"color":"#333","strokeDash":[2,1.5],"strokeWidth":0.8},"encoding":{"x":{"field":"v","type":"quantitative","title":null},"y":{"datum":0},"y2":{"datum":100000}}},{"transform":[{"filter":"datum.s=='g'"}],"mark":{"type":"rule","color":"#444","strokeWidth":1.5},"encoding":{"x2":{"field":"x2"}}},{"transform":[{"filter":"datum.s=='g'"},{"fold":["x","x2"],"as":["k","e"]}],"mark":{"type":"tick","orient":"vertical","size":7,"thickness":1.3,"color":"#444"},"encoding":{"x":{"field":"e","type":"quantitative","title":null}}},{"transform":[{"filter":"datum.s=='g'"},{"calculate":"(datum.x+datum.x2)/2","as":"m"}],"mark":{"type":"text","dy":-21,"color":"#7a3838"},"encoding":{"x":{"field":"m","type":"quantitative","title":null},"text":{"field":"lab"}}},{"transform":[{"filter":"datum.s=='g'"},{"calculate":"(datum.x+datum.x2)/2","as":"m"}],"mark":{"type":"text","dy":-11,"color":"#34407a"},"encoding":{"x":{"field":"m","type":"quantitative","title":null},"text":{"field":"val"}}}]},
{"width":158,"height":158,"title":{"text":"Sc","dx":-33,"offset":11},"transform":[{"filter":"datum.p=='aSc'"}],"encoding":{"x":{"field":"x","type":"quantitative","scale":{"domain":[0,1000],"nice":false},"axis":{"values":[70,77,86,94,105,118,133,151,175,207,214,250,286,313,333,348,361,371,380,387,394,400,480,526,560,585,606,624,639,653,665,740,784,815,840,860,876,890,904,915],"labelExpr":"datum.value==70?'-10³':datum.value==250?'0':datum.value==400?'10³':datum.value==665?'10⁴':datum.value==915?'10⁵':''","title":null}},"y":{"field":"n","type":"quantitative","scale":{"domain":[0,177],"nice":false},"axis":{"tickCount":18,"labelExpr":"datum.value%50?'':datum.label","title":"Count"}}},"layer":[{"transform":[{"filter":"datum.s=='c'"}],"mark":{"type":"area","color":"#d4d4d4","line":{"stroke":"#111","strokeDash":[5,3],"strokeWidth":1.4}}},{"transform":[{"filter":"datum.s=='s'"}],"mark":{"type":"line","color":"#111","strokeWidth":1}},{"transform":[{"filter":"datum.s=='g'"}],"mark":{"type":"rule","clip":true,"color":"#222","strokeDash":[4,2,1,2],"strokeWidth":0.9},"encoding":{"x":{"field":"v","type":"quantitative","title":null},"y":{"datum":0},"y2":{"datum":100000}}},{"transform":[{"filter":"datum.s=='g'"}],"mark":{"type":"rule","color":"#444","strokeWidth":1.5},"encoding":{"x2":{"field":"x2"}}},{"transform":[{"filter":"datum.s=='g'"},{"fold":["x","x2"],"as":["k","e"]}],"mark":{"type":"tick","orient":"vertical","size":7,"thickness":1.3,"color":"#444"},"encoding":{"x":{"field":"e","type":"quantitative","title":null}}},{"transform":[{"filter":"datum.s=='g'"},{"calculate":"(datum.x+datum.x2)/2","as":"m"}],"mark":{"type":"text","dy":-21,"color":"#7a3838"},"encoding":{"x":{"field":"m","type":"quantitative","title":null},"text":{"field":"lab"}}},{"transform":[{"filter":"datum.s=='g'"},{"calculate":"(datum.x+datum.x2)/2","as":"m"}],"mark":{"type":"text","dy":-11,"color":"#34407a"},"encoding":{"x":{"field":"m","type":"quantitative","title":null},"text":{"field":"val"}}}]},
{"width":158,"height":158,"title":{"text":"TRAP","orient":"bottom","dx":-30,"offset":21},"transform":[{"filter":"datum.p=='aTRAP'"}],"encoding":{"x":{"field":"x","type":"quantitative","scale":{"domain":[0,1000],"nice":false},"axis":{"values":[70,77,86,94,105,118,133,151,175,207,214,250,286,313,333,348,361,371,380,387,394,400,480,526,560,585,606,624,639,653,665,740,784,815,840,860,876,890,904,915],"labelExpr":"datum.value==70?'-10³':datum.value==250?'0':datum.value==400?'10³':datum.value==665?'10⁴':datum.value==915?'10⁵':''","title":null}},"y":{"field":"n","type":"quantitative","scale":{"domain":[0,188],"nice":false},"axis":{"tickCount":19,"labelExpr":"datum.value%50?'':datum.label","title":"Count"}}},"layer":[{"transform":[{"filter":"datum.s=='c'"}],"mark":{"type":"area","color":"#d4d4d4","line":{"stroke":"#111","strokeDash":[5,3],"strokeWidth":1.4}}},{"transform":[{"filter":"datum.s=='s'"}],"mark":{"type":"line","color":"#111","strokeWidth":1}},{"transform":[{"filter":"datum.s=='g'"}],"mark":{"type":"rule","clip":true,"color":"#333","strokeDash":[2,1.5],"strokeWidth":0.8},"encoding":{"x":{"field":"v","type":"quantitative","title":null},"y":{"datum":0},"y2":{"datum":100000}}},{"transform":[{"filter":"datum.s=='g'"}],"mark":{"type":"rule","color":"#444","strokeWidth":1.5},"encoding":{"x2":{"field":"x2"}}},{"transform":[{"filter":"datum.s=='g'"},{"fold":["x","x2"],"as":["k","e"]}],"mark":{"type":"tick","orient":"vertical","size":7,"thickness":1.3,"color":"#444"},"encoding":{"x":{"field":"e","type":"quantitative","title":null}}},{"transform":[{"filter":"datum.s=='g'"},{"calculate":"(datum.x+datum.x2)/2","as":"m"}],"mark":{"type":"text","dy":-21,"color":"#7a3838"},"encoding":{"x":{"field":"m","type":"quantitative","title":null},"text":{"field":"lab"}}},{"transform":[{"filter":"datum.s=='g'"},{"calculate":"(datum.x+datum.x2)/2","as":"m"}],"mark":{"type":"text","dy":-11,"color":"#34407a"},"encoding":{"x":{"field":"m","type":"quantitative","title":null},"text":{"field":"val"}}}]},
{"width":158,"height":158,"title":{"text":"SAB24","orient":"bottom","dx":-32,"offset":21},"transform":[{"filter":"datum.p=='aSAB24'"}],"encoding":{"x":{"field":"x","type":"quantitative","scale":{"domain":[0,1000],"nice":false},"axis":{"values":[70,77,86,94,105,118,133,151,175,207,214,250,286,313,333,348,361,371,380,387,394,400,480,526,560,585,606,624,639,653,665,740,784,815,840,860,876,890,904,915],"labelExpr":"datum.value==70?'-10³':datum.value==250?'0':datum.value==400?'10³':datum.value==665?'10⁴':datum.value==915?'10⁵':''","title":null}},"y":{"field":"n","type":"quantitative","scale":{"domain":[0,242],"nice":false},"axis":{"tickCount":24,"labelExpr":"datum.value%50?'':datum.label","title":"Count"}}},"layer":[{"transform":[{"filter":"datum.s=='c'"}],"mark":{"type":"area","color":"#d4d4d4","line":{"stroke":"#111","strokeDash":[5,3],"strokeWidth":1.4}}},{"transform":[{"filter":"datum.s=='s'"}],"mark":{"type":"line","color":"#111","strokeWidth":1}},{"transform":[{"filter":"datum.s=='g'"}],"mark":{"type":"rule","clip":true,"color":"#333","strokeDash":[2,1.5],"strokeWidth":0.8},"encoding":{"x":{"field":"v","type":"quantitative","title":null},"y":{"datum":0},"y2":{"datum":100000}}},{"transform":[{"filter":"datum.s=='g'"}],"mark":{"type":"rule","color":"#444","strokeWidth":1.5},"encoding":{"x2":{"field":"x2"}}},{"transform":[{"filter":"datum.s=='g'"},{"fold":["x","x2"],"as":["k","e"]}],"mark":{"type":"tick","orient":"vertical","size":7,"thickness":1.3,"color":"#444"},"encoding":{"x":{"field":"e","type":"quantitative","title":null}}},{"transform":[{"filter":"datum.s=='g'"},{"calculate":"(datum.x+datum.x2)/2","as":"m"}],"mark":{"type":"text","dy":-21,"color":"#7a3838"},"encoding":{"x":{"field":"m","type":"quantitative","title":null},"text":{"field":"lab"}}},{"transform":[{"filter":"datum.s=='g'"},{"calculate":"(datum.x+datum.x2)/2","as":"m"}],"mark":{"type":"text","dy":-11,"color":"#34407a"},"encoding":{"x":{"field":"m","type":"quantitative","title":null},"text":{"field":"val"}}}]},
{"width":158,"height":158,"title":{"text":"SAB32","orient":"bottom","dx":-36,"offset":21},"transform":[{"filter":"datum.p=='aSAB32'"}],"encoding":{"x":{"field":"x","type":"quantitative","scale":{"domain":[0,1000],"nice":false},"axis":{"values":[70,77,86,94,105,118,133,151,175,207,214,250,286,313,333,348,361,371,380,387,394,400,480,526,560,585,606,624,639,653,665,740,784,815,840,860,876,890,904,915],"labelExpr":"datum.value==70?'-10³':datum.value==250?'0':datum.value==400?'10³':datum.value==665?'10⁴':datum.value==915?'10⁵':''","title":null}},"y":{"field":"n","type":"quantitative","scale":{"domain":[0,143],"nice":false},"axis":{"tickCount":14,"labelExpr":"datum.value%30?'':datum.label","title":"Count"}}},"layer":[{"transform":[{"filter":"datum.s=='c'"}],"mark":{"type":"area","color":"#d4d4d4","line":{"stroke":"#111","strokeDash":[5,3],"strokeWidth":1.4}}},{"transform":[{"filter":"datum.s=='s'"}],"mark":{"type":"line","color":"#111","strokeWidth":1}},{"transform":[{"filter":"datum.s=='g'"}],"mark":{"type":"rule","clip":true,"color":"#333","strokeDash":[2,1.5],"strokeWidth":0.8},"encoding":{"x":{"field":"v","type":"quantitative","title":null},"y":{"datum":0},"y2":{"datum":100000}}},{"transform":[{"filter":"datum.s=='g'"}],"mark":{"type":"rule","color":"#444","strokeWidth":1.5},"encoding":{"x2":{"field":"x2"}}},{"transform":[{"filter":"datum.s=='g'"},{"fold":["x","x2"],"as":["k","e"]}],"mark":{"type":"tick","orient":"vertical","size":7,"thickness":1.3,"color":"#444"},"encoding":{"x":{"field":"e","type":"quantitative","title":null}}},{"transform":[{"filter":"datum.s=='g'"},{"calculate":"(datum.x+datum.x2)/2","as":"m"}],"mark":{"type":"text","dy":-21,"color":"#7a3838"},"encoding":{"x":{"field":"m","type":"quantitative","title":null},"text":{"field":"lab"}}},{"transform":[{"filter":"datum.s=='g'"},{"calculate":"(datum.x+datum.x2)/2","as":"m"}],"mark":{"type":"text","dy":-11,"color":"#34407a"},"encoding":{"x":{"field":"m","type":"quantitative","title":null},"text":{"field":"val"}}}]},
{"width":158,"height":158,"title":{"text":"ATCC 43866","orient":"bottom","dx":-48,"offset":21},"transform":[{"filter":"datum.p=='aATCC'"}],"encoding":{"x":{"field":"x","type":"quantitative","scale":{"domain":[0,1000],"nice":false},"axis":{"values":[70,77,86,94,105,118,133,151,175,207,214,250,286,313,333,348,361,371,380,387,394,400,480,526,560,585,606,624,639,653,665,740,784,815,840,860,876,890,904,915],"labelExpr":"datum.value==70?'-10³':datum.value==250?'0':datum.value==400?'10³':datum.value==665?'10⁴':datum.value==915?'10⁵':''","title":null}},"y":{"field":"n","type":"quantitative","scale":{"domain":[0,106],"nice":false},"axis":{"tickCount":21,"labelExpr":"datum.value%20?'':datum.label","title":"Count"}}},"layer":[{"transform":[{"filter":"datum.s=='c'"}],"mark":{"type":"area","color":"#d4d4d4","line":{"stroke":"#111","strokeDash":[5,3],"strokeWidth":1.4}}},{"transform":[{"filter":"datum.s=='s'"}],"mark":{"type":"line","color":"#111","strokeWidth":1}},{"transform":[{"filter":"datum.s=='g'"}],"mark":{"type":"rule","clip":true,"color":"#333","strokeDash":[2,1.5],"strokeWidth":0.8},"encoding":{"x":{"field":"v","type":"quantitative","title":null},"y":{"datum":0},"y2":{"datum":100000}}},{"transform":[{"filter":"datum.s=='g'"}],"mark":{"type":"rule","color":"#444","strokeWidth":1.5},"encoding":{"x2":{"field":"x2"}}},{"transform":[{"filter":"datum.s=='g'"},{"fold":["x","x2"],"as":["k","e"]}],"mark":{"type":"tick","orient":"vertical","size":7,"thickness":1.3,"color":"#444"},"encoding":{"x":{"field":"e","type":"quantitative","title":null}}},{"transform":[{"filter":"datum.s=='g'"},{"calculate":"(datum.x+datum.x2)/2","as":"m"}],"mark":{"type":"text","dy":-21,"color":"#7a3838"},"encoding":{"x":{"field":"m","type":"quantitative","title":null},"text":{"field":"lab"}}},{"transform":[{"filter":"datum.s=='g'"},{"calculate":"(datum.x+datum.x2)/2","as":"m"}],"mark":{"type":"text","dy":-11,"color":"#34407a"},"encoding":{"x":{"field":"m","type":"quantitative","title":null},"text":{"field":"val"}}}]},
{"width":158,"height":83,"title":{"text":"b","fontSize":28,"dx":-62,"offset":0,"dy":50},"view":{"stroke":null},"data":{"values":[]},"mark":"point"},
{"width":158,"height":83,"view":{"stroke":null},"data":{"values":[]},"mark":"point"},
{"width":158,"height":83,"view":{"stroke":null},"data":{"values":[]},"mark":"point"},
{"width":158,"height":83,"view":{"stroke":null},"data":{"values":[]},"mark":"point"},
{"width":158,"height":159,"view":{"stroke":"#bbb"},"title":{"text":"NS","dx":-33,"offset":39},"transform":[{"filter":"datum.p=='bNS'"}],"encoding":{"x":{"field":"x","type":"quantitative","scale":{"domain":[0,1000],"nice":false},"axis":{"values":[70,77,86,94,105,118,133,151,175,207,214,250,286,313,333,348,361,371,380,387,394,400,480,526,560,585,606,624,639,653,665,740,784,815,840,860,876,890,904,915],"labelExpr":"datum.value==70?'-10³':datum.value==250?'0':datum.value==400?'10³':datum.value==665?'10⁴':datum.value==915?'10⁵':''","title":null}},"y":{"field":"n","type":"quantitative","scale":{"domain":[0,372],"nice":false},"axis":{"tickCount":19,"labelExpr":"datum.value%100?'':datum.label","title":"Count","titleColor":"#3a4a70"}}},"layer":[{"transform":[{"filter":"datum.s=='c'"}],"mark":{"type":"area","color":"#d4d4d4","line":{"stroke":"#111","strokeDash":[5,3],"strokeWidth":1.4}}},{"transform":[{"filter":"datum.s=='s'"}],"mark":{"type":"line","color":"#111","strokeWidth":1}},{"transform":[{"filter":"datum.s=='g'"}],"mark":{"type":"rule","clip":true,"color":"#333","strokeDash":[2,1.5],"strokeWidth":0.8},"encoding":{"x":{"field":"v","type":"quantitative","title":null},"y":{"datum":0},"y2":{"datum":100000}}},{"transform":[{"filter":"datum.s=='g'"}],"mark":{"type":"rule","color":"#444","strokeWidth":1.5},"encoding":{"x2":{"field":"x2"}}},{"transform":[{"filter":"datum.s=='g'"},{"fold":["x","x2"],"as":["k","e"]}],"mark":{"type":"tick","orient":"vertical","size":7,"thickness":1.3,"color":"#444"},"encoding":{"x":{"field":"e","type":"quantitative","title":null}}},{"transform":[{"filter":"datum.s=='g'"},{"calculate":"(datum.x+datum.x2)/2","as":"m"}],"mark":{"type":"text","dy":-21,"color":"#7a3838"},"encoding":{"x":{"field":"m","type":"quantitative","title":null},"text":{"field":"lab"}}},{"transform":[{"filter":"datum.s=='g'"},{"calculate":"(datum.x+datum.x2)/2","as":"m"}],"mark":{"type":"text","dy":-11,"color":"#34407a"},"encoding":{"x":{"field":"m","type":"quantitative","title":null},"text":{"field":"val"}}}]},
{"width":158,"height":159,"view":{"stroke":"#bbb"},"title":{"text":"SAB19","dx":-32,"offset":39},"transform":[{"filter":"datum.p=='bSAB19'"}],"encoding":{"x":{"field":"x","type":"quantitative","scale":{"domain":[0,1000],"nice":false},"axis":{"values":[70,77,86,94,105,118,133,151,175,207,214,250,286,313,333,348,361,371,380,387,394,400,480,526,560,585,606,624,639,653,665,740,784,815,840,860,876,890,904,915],"labelExpr":"datum.value==70?'-10³':datum.value==250?'0':datum.value==400?'10³':datum.value==665?'10⁴':datum.value==915?'10⁵':''","title":null}},"y":{"field":"n","type":"quantitative","scale":{"domain":[0,236],"nice":false},"axis":{"tickCount":24,"labelExpr":"datum.value%50?'':datum.label","title":"Count","titleColor":"#3a4a70"}}},"layer":[{"transform":[{"filter":"datum.s=='c'"}],"mark":{"type":"area","color":"#d4d4d4","line":{"stroke":"#111","strokeDash":[5,3],"strokeWidth":1.4}}},{"transform":[{"filter":"datum.s=='s'"}],"mark":{"type":"line","color":"#111","strokeWidth":1}},{"transform":[{"filter":"datum.s=='g'"}],"mark":{"type":"rule","clip":true,"color":"#999","strokeDash":[2,1.5],"strokeWidth":0.8},"encoding":{"x":{"field":"v","type":"quantitative","title":null},"y":{"datum":0},"y2":{"datum":100000}}},{"transform":[{"filter":"datum.s=='g'"}],"mark":{"type":"rule","color":"#444","strokeWidth":1.5},"encoding":{"x2":{"field":"x2"}}},{"transform":[{"filter":"datum.s=='g'"},{"fold":["x","x2"],"as":["k","e"]}],"mark":{"type":"tick","orient":"vertical","size":7,"thickness":1.3,"color":"#444"},"encoding":{"x":{"field":"e","type":"quantitative","title":null}}},{"transform":[{"filter":"datum.s=='g'"},{"calculate":"(datum.x+datum.x2)/2","as":"m"}],"mark":{"type":"text","dy":-21,"color":"#7a3838"},"encoding":{"x":{"field":"m","type":"quantitative","title":null},"text":{"field":"lab"}}},{"transform":[{"filter":"datum.s=='g'"},{"calculate":"(datum.x+datum.x2)/2","as":"m"}],"mark":{"type":"text","dy":-11,"color":"#34407a"},"encoding":{"x":{"field":"m","type":"quantitative","title":null},"text":{"field":"val"}}}]},
{"width":158,"height":159,"view":{"stroke":"#bbb"},"title":{"text":"SAB31","dx":-35,"offset":39},"transform":[{"filter":"datum.p=='bSAB31'"}],"encoding":{"x":{"field":"x","type":"quantitative","scale":{"domain":[0,1000],"nice":false},"axis":{"values":[70,77,86,94,105,118,133,151,175,207,214,250,286,313,333,348,361,371,380,387,394,400,480,526,560,585,606,624,639,653,665,740,784,815,840,860,876,890,904,915],"labelExpr":"datum.value==70?'-10³':datum.value==250?'0':datum.value==400?'10³':datum.value==665?'10⁴':datum.value==915?'10⁵':''","title":null}},"y":{"field":"n","type":"quantitative","scale":{"domain":[0,224],"nice":false},"axis":{"tickCount":22,"labelExpr":"datum.value%50?'':datum.label","title":"Count","titleColor":"#3a4a70"}}},"layer":[{"transform":[{"filter":"datum.s=='c'"}],"mark":{"type":"area","color":"#d4d4d4","line":{"stroke":"#111","strokeDash":[5,3],"strokeWidth":1.4}}},{"transform":[{"filter":"datum.s=='s'"}],"mark":{"type":"line","color":"#111","strokeWidth":1}},{"transform":[{"filter":"datum.s=='g'"}],"mark":{"type":"rule","clip":true,"color":"#999","strokeDash":[2,1.5],"strokeWidth":0.8},"encoding":{"x":{"field":"v","type":"quantitative","title":null},"y":{"datum":0},"y2":{"datum":100000}}},{"transform":[{"filter":"datum.s=='g'"}],"mark":{"type":"rule","color":"#444","strokeWidth":1.5},"encoding":{"x2":{"field":"x2"}}},{"transform":[{"filter":"datum.s=='g'"},{"fold":["x","x2"],"as":["k","e"]}],"mark":{"type":"tick","orient":"vertical","size":7,"thickness":1.3,"color":"#444"},"encoding":{"x":{"field":"e","type":"quantitative","title":null}}},{"transform":[{"filter":"datum.s=='g'"},{"calculate":"(datum.x+datum.x2)/2","as":"m"}],"mark":{"type":"text","dy":-21,"color":"#7a3838"},"encoding":{"x":{"field":"m","type":"quantitative","title":null},"text":{"field":"lab"}}},{"transform":[{"filter":"datum.s=='g'"},{"calculate":"(datum.x+datum.x2)/2","as":"m"}],"mark":{"type":"text","dy":-11,"color":"#34407a"},"encoding":{"x":{"field":"m","type":"quantitative","title":null},"text":{"field":"val"}}}]},
{"width":158,"height":159,"view":{"stroke":"#bbb"},"title":{"text":"Sc","dx":-22,"offset":39},"transform":[{"filter":"datum.p=='bSc'"}],"encoding":{"x":{"field":"x","type":"quantitative","scale":{"domain":[0,1000],"nice":false},"axis":{"values":[70,77,86,94,105,118,133,151,175,207,214,250,286,313,333,348,361,371,380,387,394,400,480,526,560,585,606,624,639,653,665,740,784,815,840,860,876,890,904,915],"labelExpr":"datum.value==70?'-10³':datum.value==250?'0':datum.value==400?'10³':datum.value==665?'10⁴':datum.value==915?'10⁵':''","title":null}},"y":{"field":"n","type":"quantitative","scale":{"domain":[0,306],"nice":false},"axis":{"tickCount":16,"labelExpr":"datum.value%100?'':datum.label","title":"Count","titleColor":"#3a4a70"}}},"layer":[{"transform":[{"filter":"datum.s=='c'"}],"mark":{"type":"area","color":"#d4d4d4","line":{"stroke":"#111","strokeDash":[5,3],"strokeWidth":1.4}}},{"transform":[{"filter":"datum.s=='s'"}],"mark":{"type":"line","color":"#111","strokeWidth":1}},{"transform":[{"filter":"datum.s=='g'"}],"mark":{"type":"rule","clip":true,"color":"#999","strokeDash":[2,1.5],"strokeWidth":0.8},"encoding":{"x":{"field":"v","type":"quantitative","title":null},"y":{"datum":0},"y2":{"datum":100000}}},{"transform":[{"filter":"datum.s=='g'"}],"mark":{"type":"rule","color":"#444","strokeWidth":1.5},"encoding":{"x2":{"field":"x2"}}},{"transform":[{"filter":"datum.s=='g'"},{"fold":["x","x2"],"as":["k","e"]}],"mark":{"type":"tick","orient":"vertical","size":7,"thickness":1.3,"color":"#444"},"encoding":{"x":{"field":"e","type":"quantitative","title":null}}},{"transform":[{"filter":"datum.s=='g'"},{"calculate":"(datum.x+datum.x2)/2","as":"m"}],"mark":{"type":"text","dy":-21,"color":"#7a3838"},"encoding":{"x":{"field":"m","type":"quantitative","title":null},"text":{"field":"lab"}}},{"transform":[{"filter":"datum.s=='g'"},{"calculate":"(datum.x+datum.x2)/2","as":"m"}],"mark":{"type":"text","dy":-11,"color":"#34407a"},"encoding":{"x":{"field":"m","type":"quantitative","title":null},"text":{"field":"val"}}}]},
{"width":158,"height":159,"view":{"stroke":"#bbb"},"title":{"text":"TRAP","orient":"bottom","dx":-35,"offset":22},"transform":[{"filter":"datum.p=='bTRAP'"}],"encoding":{"x":{"field":"x","type":"quantitative","scale":{"domain":[0,1000],"nice":false},"axis":{"values":[70,77,86,94,105,118,133,151,175,207,214,250,286,313,333,348,361,371,380,387,394,400,480,526,560,585,606,624,639,653,665,740,784,815,840,860,876,890,904,915],"labelExpr":"datum.value==70?'-10³':datum.value==250?'0':datum.value==400?'10³':datum.value==665?'10⁴':datum.value==915?'10⁵':''","title":null}},"y":{"field":"n","type":"quantitative","scale":{"domain":[0,163],"nice":false},"axis":{"tickCount":17,"labelExpr":"datum.value%50?'':datum.label","title":"Count","titleColor":"#3a4a70"}}},"layer":[{"transform":[{"filter":"datum.s=='c'"}],"mark":{"type":"area","color":"#d4d4d4","line":{"stroke":"#111","strokeDash":[5,3],"strokeWidth":1.4}}},{"transform":[{"filter":"datum.s=='s'"}],"mark":{"type":"line","color":"#111","strokeWidth":1}},{"transform":[{"filter":"datum.s=='g'"}],"mark":{"type":"rule","clip":true,"color":"#333","strokeDash":[2,1.5],"strokeWidth":0.8},"encoding":{"x":{"field":"v","type":"quantitative","title":null},"y":{"datum":0},"y2":{"datum":100000}}},{"transform":[{"filter":"datum.s=='g'"}],"mark":{"type":"rule","color":"#444","strokeWidth":1.5},"encoding":{"x2":{"field":"x2"}}},{"transform":[{"filter":"datum.s=='g'"},{"fold":["x","x2"],"as":["k","e"]}],"mark":{"type":"tick","orient":"vertical","size":7,"thickness":1.3,"color":"#444"},"encoding":{"x":{"field":"e","type":"quantitative","title":null}}},{"transform":[{"filter":"datum.s=='g'"},{"calculate":"(datum.x+datum.x2)/2","as":"m"}],"mark":{"type":"text","dy":-21,"color":"#7a3838"},"encoding":{"x":{"field":"m","type":"quantitative","title":null},"text":{"field":"lab"}}},{"transform":[{"filter":"datum.s=='g'"},{"calculate":"(datum.x+datum.x2)/2","as":"m"}],"mark":{"type":"text","dy":-11,"color":"#34407a"},"encoding":{"x":{"field":"m","type":"quantitative","title":null},"text":{"field":"val"}}}]},
{"width":158,"height":159,"view":{"stroke":"#bbb"},"title":{"text":"SAB24","orient":"bottom","dx":-32,"offset":22},"transform":[{"filter":"datum.p=='bSAB24'"}],"encoding":{"x":{"field":"x","type":"quantitative","scale":{"domain":[0,1000],"nice":false},"axis":{"values":[70,77,86,94,105,118,133,151,175,207,214,250,286,313,333,348,361,371,380,387,394,400,480,526,560,585,606,624,639,653,665,740,784,815,840,860,876,890,904,915],"labelExpr":"datum.value==70?'-10³':datum.value==250?'0':datum.value==400?'10³':datum.value==665?'10⁴':datum.value==915?'10⁵':''","title":null}},"y":{"field":"n","type":"quantitative","scale":{"domain":[0,206],"nice":false},"axis":{"tickCount":21,"labelExpr":"datum.value%50?'':datum.label","title":"Count","titleColor":"#3a4a70"}}},"layer":[{"transform":[{"filter":"datum.s=='c'"}],"mark":{"type":"area","color":"#d4d4d4","line":{"stroke":"#111","strokeDash":[5,3],"strokeWidth":1.4}}},{"transform":[{"filter":"datum.s=='s'"}],"mark":{"type":"line","color":"#111","strokeWidth":1}},{"transform":[{"filter":"datum.s=='g'"}],"mark":{"type":"rule","clip":true,"color":"#333","strokeDash":[2,1.5],"strokeWidth":0.8},"encoding":{"x":{"field":"v","type":"quantitative","title":null},"y":{"datum":0},"y2":{"datum":100000}}},{"transform":[{"filter":"datum.s=='g'"}],"mark":{"type":"rule","color":"#444","strokeWidth":1.5},"encoding":{"x2":{"field":"x2"}}},{"transform":[{"filter":"datum.s=='g'"},{"fold":["x","x2"],"as":["k","e"]}],"mark":{"type":"tick","orient":"vertical","size":7,"thickness":1.3,"color":"#444"},"encoding":{"x":{"field":"e","type":"quantitative","title":null}}},{"transform":[{"filter":"datum.s=='g'"},{"calculate":"(datum.x+datum.x2)/2","as":"m"}],"mark":{"type":"text","dy":-21,"color":"#7a3838"},"encoding":{"x":{"field":"m","type":"quantitative","title":null},"text":{"field":"lab"}}},{"transform":[{"filter":"datum.s=='g'"},{"calculate":"(datum.x+datum.x2)/2","as":"m"}],"mark":{"type":"text","dy":-11,"color":"#34407a"},"encoding":{"x":{"field":"m","type":"quantitative","title":null},"text":{"field":"val"}}}]},
{"width":158,"height":159,"view":{"stroke":"#bbb"},"title":{"text":"SAB32","orient":"bottom","dx":-37,"offset":22},"transform":[{"filter":"datum.p=='bSAB32'"}],"encoding":{"x":{"field":"x","type":"quantitative","scale":{"domain":[0,1000],"nice":false},"axis":{"values":[70,77,86,94,105,118,133,151,175,207,214,250,286,313,333,348,361,371,380,387,394,400,480,526,560,585,606,624,639,653,665,740,784,815,840,860,876,890,904,915],"labelExpr":"datum.value==70?'-10³':datum.value==250?'0':datum.value==400?'10³':datum.value==665?'10⁴':datum.value==915?'10⁵':''","title":null}},"y":{"field":"n","type":"quantitative","scale":{"domain":[0,137],"nice":false},"axis":{"tickCount":14,"labelExpr":"datum.value%30?'':datum.label","title":"Count","titleColor":"#3a4a70"}}},"layer":[{"transform":[{"filter":"datum.s=='c'"}],"mark":{"type":"area","color":"#d4d4d4","line":{"stroke":"#111","strokeDash":[5,3],"strokeWidth":1.4}}},{"transform":[{"filter":"datum.s=='s'"}],"mark":{"type":"line","color":"#111","strokeWidth":1}},{"transform":[{"filter":"datum.s=='g'"}],"mark":{"type":"rule","clip":true,"color":"#333","strokeDash":[2,1.5],"strokeWidth":0.8},"encoding":{"x":{"field":"v","type":"quantitative","title":null},"y":{"datum":0},"y2":{"datum":100000}}},{"transform":[{"filter":"datum.s=='g'"}],"mark":{"type":"rule","color":"#444","strokeWidth":1.5},"encoding":{"x2":{"field":"x2"}}},{"transform":[{"filter":"datum.s=='g'"},{"fold":["x","x2"],"as":["k","e"]}],"mark":{"type":"tick","orient":"vertical","size":7,"thickness":1.3,"color":"#444"},"encoding":{"x":{"field":"e","type":"quantitative","title":null}}},{"transform":[{"filter":"datum.s=='g'"},{"calculate":"(datum.x+datum.x2)/2","as":"m"}],"mark":{"type":"text","dy":-21,"color":"#7a3838"},"encoding":{"x":{"field":"m","type":"quantitative","title":null},"text":{"field":"lab"}}},{"transform":[{"filter":"datum.s=='g'"},{"calculate":"(datum.x+datum.x2)/2","as":"m"}],"mark":{"type":"text","dy":-11,"color":"#34407a"},"encoding":{"x":{"field":"m","type":"quantitative","title":null},"text":{"field":"val"}}}]},
{"width":158,"height":159,"view":{"stroke":"#bbb"},"title":{"text":"ATCC 43866","orient":"bottom","dx":-45,"offset":22},"transform":[{"filter":"datum.p=='bATCC'"}],"encoding":{"x":{"field":"x","type":"quantitative","scale":{"domain":[0,1000],"nice":false},"axis":{"values":[70,77,86,94,105,118,133,151,175,207,214,250,286,313,333,348,361,371,380,387,394,400,480,526,560,585,606,624,639,653,665,740,784,815,840,860,876,890,904,915],"labelExpr":"datum.value==70?'-10³':datum.value==250?'0':datum.value==400?'10³':datum.value==665?'10⁴':datum.value==915?'10⁵':''","title":null}},"y":{"field":"n","type":"quantitative","scale":{"domain":[0,171],"nice":false},"axis":{"tickCount":17,"labelExpr":"datum.value%50?'':datum.label","title":"Count","titleColor":"#3a4a70"}}},"layer":[{"transform":[{"filter":"datum.s=='c'"}],"mark":{"type":"area","color":"#d4d4d4","line":{"stroke":"#111","strokeDash":[5,3],"strokeWidth":1.4}}},{"transform":[{"filter":"datum.s=='s'"}],"mark":{"type":"line","color":"#111","strokeWidth":1}},{"transform":[{"filter":"datum.s=='g'"}],"mark":{"type":"rule","clip":true,"color":"#333","strokeDash":[2,1.5],"strokeWidth":0.8},"encoding":{"x":{"field":"v","type":"quantitative","title":null},"y":{"datum":0},"y2":{"datum":100000}}},{"transform":[{"filter":"datum.s=='g'"}],"mark":{"type":"rule","color":"#444","strokeWidth":1.5},"encoding":{"x2":{"field":"x2"}}},{"transform":[{"filter":"datum.s=='g'"},{"fold":["x","x2"],"as":["k","e"]}],"mark":{"type":"tick","orient":"vertical","size":7,"thickness":1.3,"color":"#444"},"encoding":{"x":{"field":"e","type":"quantitative","title":null}}},{"transform":[{"filter":"datum.s=='g'"},{"calculate":"(datum.x+datum.x2)/2","as":"m"}],"mark":{"type":"text","dy":-21,"color":"#7a3838"},"encoding":{"x":{"field":"m","type":"quantitative","title":null},"text":{"field":"lab"}}},{"transform":[{"filter":"datum.s=='g'"},{"calculate":"(datum.x+datum.x2)/2","as":"m"}],"mark":{"type":"text","dy":-11,"color":"#34407a"},"encoding":{"x":{"field":"m","type":"quantitative","title":null},"text":{"field":"val"}}}]}
]}
